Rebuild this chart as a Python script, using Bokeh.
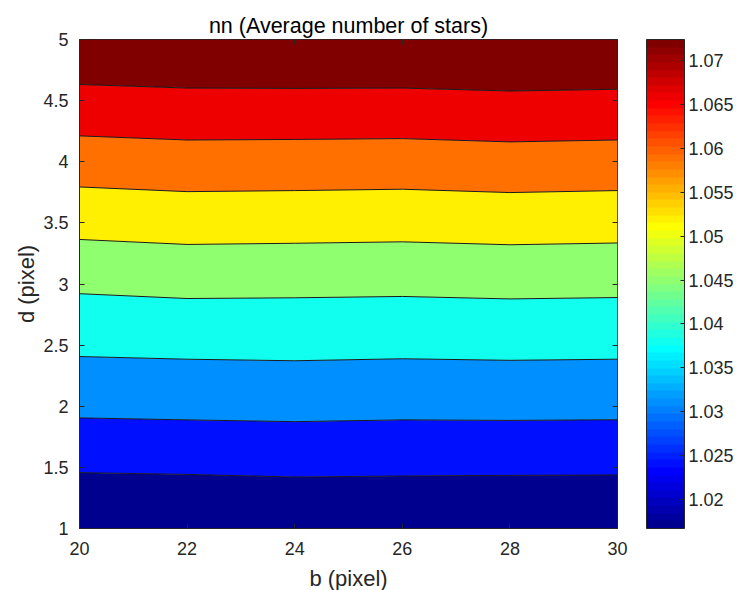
import numpy as np
from bokeh.plotting import figure
from bokeh.models import ColorBar, LinearColorMapper, FixedTicker, CustomJSTickFormatter, LinearAxis
from bokeh.embed import file_html
from bokeh.resources import INLINE

# ---------------- data ----------------
B_PIXEL = [20, 22, 24, 26, 28, 30]                      # x grid
D_PIXEL = [1, 1.5, 2, 2.5, 3, 3.5, 4, 4.5, 5]           # y grid
# nn values, one row per d value, one column per b value
NN = [
    [1.01651, 1.01665, 1.01712, 1.01713, 1.01690, 1.01688],
    [1.02438, 1.02462, 1.02493, 1.02478, 1.02472, 1.02467],
    [1.03206, 1.03232, 1.03251, 1.03227, 1.03237, 1.03228],
    [1.03887, 1.03918, 1.03935, 1.03913, 1.03933, 1.03919],
    [1.04568, 1.04629, 1.04613, 1.04600, 1.04630, 1.04614],
    [1.05367, 1.05434, 1.05419, 1.05397, 1.05440, 1.05413],
    [1.06189, 1.06248, 1.06235, 1.06220, 1.06267, 1.06240],
    [1.07019, 1.07069, 1.07071, 1.07065, 1.07107, 1.07082],
    [1.07856, 1.07900, 1.07918, 1.07916, 1.07952, 1.07933],
]
CONTOUR_LEVELS = [1.0237, 1.0306, 1.0376, 1.0446, 1.0515, 1.0585, 1.0654, 1.0724]
CLIM = [1.0167, 1.0724]
X_TICKS = [20, 22, 24, 26, 28, 30]
Y_TICKS = [1, 1.5, 2, 2.5, 3, 3.5, 4, 4.5, 5]
CB_TICKS = [1.02, 1.025, 1.03, 1.035, 1.04, 1.045, 1.05, 1.055, 1.06, 1.065, 1.07]


# ---------------- colours ----------------
def jet(n=64):
    t = (np.arange(n) + 1) / n
    r = np.clip(1.5 - np.abs(4 * t - 3), 0, 1)
    g = np.clip(1.5 - np.abs(4 * t - 2), 0, 1)
    b = np.clip(1.5 - np.abs(4 * t - 1), 0, 1)
    return ["#%02x%02x%02x" % (int(round(255 * a)), int(round(255 * c)), int(round(255 * d)))
            for a, c, d in zip(r, g, b)]


JET = jet(64)


def color_of(v):
    idx = int(round((v - CLIM[0]) / (CLIM[1] - CLIM[0]) * 64))
    return JET[max(0, min(63, idx))]


z = np.array(NN)
fill_levels = [float(z.min()) - 0.0005] + CONTOUR_LEVELS + [float(z.max()) + 0.0005]
band_colors = [color_of(CLIM[0])] + [color_of(v) for v in CONTOUR_LEVELS]

AX = "#262626"
FONT = "Liberation Sans"

p = figure(frame_width=538, frame_height=489, x_range=(20, 30), y_range=(1, 5),
           output_backend="svg", toolbar_location=None,
           min_border_left=79, min_border_top=39, min_border_bottom=62, min_border_right=0,
           title="nn (Average number of stars)")

p.contour(x=np.array(B_PIXEL, dtype=float), y=np.array(D_PIXEL, dtype=float), z=z,
          levels=fill_levels, fill_color=band_colors, line_color="#1a1a1a", line_width=1.0)

p.title.align = "center"
p.title.text_font = FONT
p.title.text_font_size = "21.5px"
p.title.text_font_style = "normal"
p.title.text_color = "#000000"
p.title.standoff = 4

p.grid.visible = False
p.outline_line_color = AX
p.outline_line_width = 1
p.outline_line_alpha = 1

fmt = "return String(Math.round(tick*1000)/1000);"
for ax, ticks, lab, st, ls in ((p.xaxis, X_TICKS, "b (pixel)", 13, 8),
                               (p.yaxis, Y_TICKS, "d (pixel)", 11, 1)):
    ax.ticker = FixedTicker(ticks=ticks)
    ax.formatter = CustomJSTickFormatter(code=fmt)
    ax.axis_label = lab
    ax.axis_label_text_font = FONT
    ax.axis_label_text_font_size = "22px"
    ax.axis_label_text_font_style = "normal"
    ax.axis_label_text_color = AX
    ax.major_label_text_font = FONT
    ax.major_label_text_font_size = "18px"
    ax.major_label_text_color = AX
    ax.major_tick_in = 5
    ax.major_tick_out = 0
    ax.minor_tick_line_color = None
    ax.major_tick_line_color = AX
    ax.axis_line_color = AX
    ax.major_label_standoff = st
    ax.axis_label_standoff = ls

# mirrored tick marks on the top and right edges of the box (no labels)
blank = "return '';"
for ticks, side in ((X_TICKS, "above"), (Y_TICKS, "right")):
    m = LinearAxis(ticker=FixedTicker(ticks=ticks), formatter=CustomJSTickFormatter(code=blank),
                   major_tick_in=5, major_tick_out=0, major_tick_line_color=AX,
                   minor_tick_line_color=None, axis_line_color=None,
                   major_label_standoff=0, major_label_text_font_size="1px")
    p.add_layout(m, side)

mapper = LinearColorMapper(palette=JET, low=CLIM[0], high=CLIM[1])
cb = ColorBar(color_mapper=mapper, ticker=FixedTicker(ticks=CB_TICKS),
              formatter=CustomJSTickFormatter(code=fmt),
              location=(29, 0),
              width=38, height=489, padding=0, margin=0,
              major_tick_in=4, major_tick_out=0, major_tick_line_color=AX,
              minor_tick_line_color=None,
              bar_line_color=AX, bar_line_width=1,
              major_label_text_font=FONT, major_label_text_font_size="18px",
              major_label_text_color=AX, label_standoff=4,
              background_fill_color=None, border_line_color=None)
p.add_layout(cb, "right")

open("out.html", "w").write(file_html(p, INLINE))
